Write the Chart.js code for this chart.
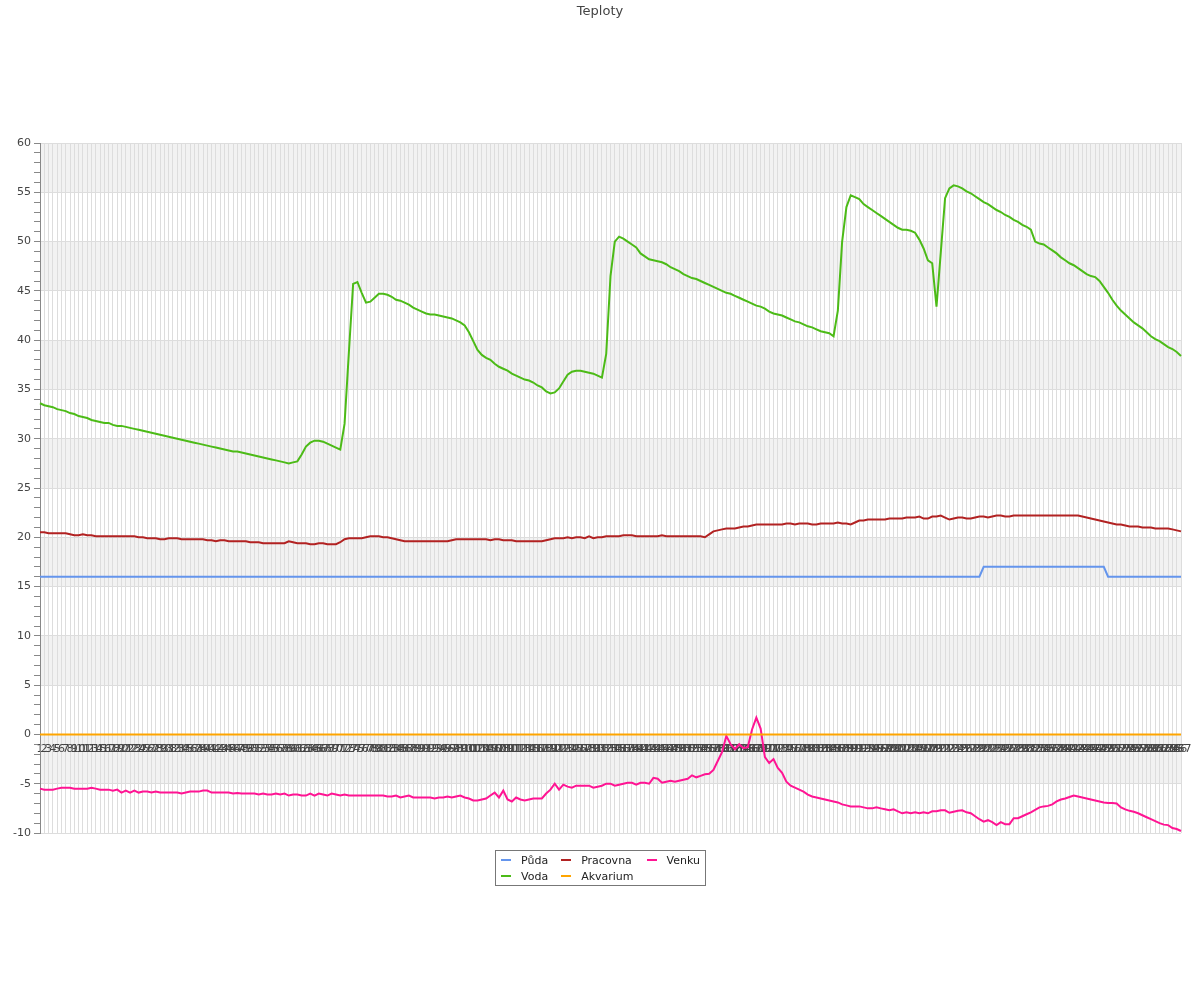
<!DOCTYPE html>
<html>
<head>
<meta charset="utf-8">
<script src="https://cdn.jsdelivr.net/npm/chart.js@4"></script>
<style>
html,body{margin:0;padding:0;background:#fff;}
#wrap{position:relative;width:1200px;height:1000px;}
#legend{position:absolute;left:495px;top:850px;border:1px solid #777;font:11px "DejaVu Sans",sans-serif;color:#222;
  display:grid;grid-auto-flow:column;grid-template-rows:16px 16px;column-gap:13px;padding:1px 5px 1px 5px;}
.item{display:flex;align-items:center;white-space:nowrap;}
.sw{width:10px;height:2px;margin-right:10px;}
</style>
</head>
<body>
<div id="wrap">
<canvas id="c" width="1200" height="1000"></canvas>
<div id="legend"></div>
</div>
<script>
const categories = [
1,2,3,4,5,6,7,8,9,10,11,12,13,14,15,16,17,18,19,20,21,22,23,24,25,26,27,28,29,30,
31,32,33,34,35,36,37,38,39,40,41,42,43,44,45,46,47,48,49,50,51,52,53,54,55,56,57,58,59,60,
61,62,63,64,65,66,67,68,69,70,71,72,73,74,75,76,77,78,79,80,81,82,83,84,85,86,87,88,89,90,
91,92,93,94,95,96,97,98,99,100,101,102,103,104,105,106,107,108,109,110,111,112,113,114,115,116,117,118,119,120,
121,122,123,124,125,126,127,128,129,130,131,132,133,134,135,136,137,138,139,140,141,142,143,144,145,146,147,148,149,150,
151,152,153,154,155,156,157,158,159,160,161,162,163,164,165,166,167,168,169,170,171,172,173,174,175,176,177,178,179,180,
181,182,183,184,185,186,187,188,189,190,191,192,193,194,195,196,197,198,199,200,201,202,203,204,205,206,207,208,209,210,
211,212,213,214,215,216,217,218,219,220,221,222,223,224,225,226,227,228,229,230,231,232,233,234,235,236,237,238,239,240,
241,242,243,244,245,246,247,248,249,250,251,252,253,254,255,256,257,258,259,260,261,262,263,264,265,266,267
];

const puda = [
16,16,16,16,16,16,16,16,16,16, 16,16,16,16,16,16,16,16,16,16, 16,16,16,16,16,16,16,16,16,16,
16,16,16,16,16,16,16,16,16,16, 16,16,16,16,16,16,16,16,16,16, 16,16,16,16,16,16,16,16,16,16,
16,16,16,16,16,16,16,16,16,16, 16,16,16,16,16,16,16,16,16,16, 16,16,16,16,16,16,16,16,16,16,
16,16,16,16,16,16,16,16,16,16, 16,16,16,16,16,16,16,16,16,16, 16,16,16,16,16,16,16,16,16,16,
16,16,16,16,16,16,16,16,16,16, 16,16,16,16,16,16,16,16,16,16, 16,16,16,16,16,16,16,16,16,16,
16,16,16,16,16,16,16,16,16,16, 16,16,16,16,16,16,16,16,16,16, 16,16,16,16,16,16,16,16,16,16,
16,16,16,16,16,16,16,16,16,16, 16,16,16,16,16,16,16,16,16,16, 16,16,16,16,16,16,16,16,16,16,
16,16,16,16,16,16,16,16,16,16, 17,17,17,17,17,17,17,17,17,17, 17,17,17,17,17,17,17,17,17,17,
17,17,17,17,17,17,17,17,17,16, 16,16,16,16,16,16,16,16,16,16, 16,16,16,16,16,16,16
];

const voda = [
33.6,33.4,33.3,33.2,33.0,32.9,32.8,32.6,32.5,32.3,
32.2,32.1,31.9,31.8,31.7,31.6,31.6,31.4,31.3,31.3,
31.2,31.1,31.0,30.9,30.8,30.7,30.6,30.5,30.4,30.3,
30.2,30.1,30.0,29.9,29.8,29.7,29.6,29.5,29.4,29.3,
29.2,29.1,29.0,28.9,28.8,28.7,28.7,28.6,28.5,28.4,
28.3,28.2,28.1,28.0,27.9,27.8,27.7,27.6,27.5,27.6,
27.7,28.4,29.2,29.6,29.8,29.8,29.7,29.5,29.3,29.1,
28.9,31.5,38.7,45.7,45.9,44.8,43.8,43.9,44.3,44.7,
44.7,44.6,44.4,44.1,44.0,43.8,43.6,43.3,43.1,42.9,
42.7,42.6,42.6,42.5,42.4,42.3,42.2,42.0,41.8,41.5,
40.8,39.9,39.0,38.5,38.2,38.0,37.6,37.3,37.1,36.9,
36.6,36.4,36.2,36.0,35.9,35.7,35.4,35.2,34.8,34.6,
34.7,35.1,35.8,36.5,36.8,36.9,36.9,36.8,36.7,36.6,
36.4,36.2,38.6,46.5,50.0,50.5,50.3,50.0,49.7,49.4,
48.8,48.5,48.2,48.1,48.0,47.9,47.7,47.4,47.2,47.0,
46.7,46.5,46.3,46.2,46.0,45.8,45.6,45.4,45.2,45.0,
44.8,44.7,44.5,44.3,44.1,43.9,43.7,43.5,43.4,43.2,
42.9,42.7,42.6,42.5,42.3,42.1,41.9,41.8,41.6,41.4,
41.3,41.1,40.9,40.8,40.7,40.4,43.0,50.0,53.5,54.7,
54.5,54.3,53.8,53.5,53.2,52.9,52.6,52.3,52.0,51.7,
51.4,51.2,51.2,51.1,50.9,50.2,49.3,48.1,47.8,43.4,
48.9,54.4,55.4,55.7,55.6,55.4,55.1,54.9,54.6,54.3,
54.0,53.8,53.5,53.2,53.0,52.7,52.5,52.2,52.0,51.7,
51.5,51.2,50.0,49.8,49.7,49.4,49.1,48.8,48.4,48.1,
47.8,47.6,47.3,47.0,46.7,46.5,46.4,46.0,45.4,44.8,
44.1,43.5,43.0,42.6,42.2,41.8,41.5,41.2,40.8,40.4,
40.1,39.9,39.6,39.3,39.1,38.8,38.4
];

const pracovna = [
20.5,20.5,20.4,20.4,20.4,20.4,20.4,20.3,20.2,20.2,
20.3,20.2,20.2,20.1,20.1,20.1,20.1,20.1,20.1,20.1,
20.1,20.1,20.1,20.0,20.0,19.9,19.9,19.9,19.8,19.8,
19.9,19.9,19.9,19.8,19.8,19.8,19.8,19.8,19.8,19.7,
19.7,19.6,19.7,19.7,19.6,19.6,19.6,19.6,19.6,19.5,
19.5,19.5,19.4,19.4,19.4,19.4,19.4,19.4,19.6,19.5,
19.4,19.4,19.4,19.3,19.3,19.4,19.4,19.3,19.3,19.3,
19.5,19.8,19.9,19.9,19.9,19.9,20.0,20.1,20.1,20.1,
20.0,20.0,19.9,19.8,19.7,19.6,19.6,19.6,19.6,19.6,
19.6,19.6,19.6,19.6,19.6,19.6,19.7,19.8,19.8,19.8,
19.8,19.8,19.8,19.8,19.8,19.7,19.8,19.8,19.7,19.7,
19.7,19.6,19.6,19.6,19.6,19.6,19.6,19.6,19.7,19.8,
19.9,19.9,19.9,20.0,19.9,20.0,20.0,19.9,20.1,19.9,
20.0,20.0,20.1,20.1,20.1,20.1,20.2,20.2,20.2,20.1,
20.1,20.1,20.1,20.1,20.1,20.2,20.1,20.1,20.1,20.1,
20.1,20.1,20.1,20.1,20.1,20.0,20.3,20.6,20.7,20.8,
20.9,20.9,20.9,21.0,21.1,21.1,21.2,21.3,21.3,21.3,
21.3,21.3,21.3,21.3,21.4,21.4,21.3,21.4,21.4,21.4,
21.3,21.3,21.4,21.4,21.4,21.4,21.5,21.4,21.4,21.3,
21.5,21.7,21.7,21.8,21.8,21.8,21.8,21.8,21.9,21.9,
21.9,21.9,22.0,22.0,22.0,22.1,21.9,21.9,22.1,22.1,
22.2,22.0,21.8,21.9,22.0,22.0,21.9,21.9,22.0,22.1,
22.1,22.0,22.1,22.2,22.2,22.1,22.1,22.2,22.2,22.2,
22.2,22.2,22.2,22.2,22.2,22.2,22.2,22.2,22.2,22.2,
22.2,22.2,22.2,22.1,22.0,21.9,21.8,21.7,21.6,21.5,
21.4,21.3,21.3,21.2,21.1,21.1,21.1,21.0,21.0,21.0,
20.9,20.9,20.9,20.9,20.8,20.7,20.6
];

const akvarium = [
0,0,0,0,0,0,0,0,0,0, 0,0,0,0,0,0,0,0,0,0, 0,0,0,0,0,0,0,0,0,0,
0,0,0,0,0,0,0,0,0,0, 0,0,0,0,0,0,0,0,0,0, 0,0,0,0,0,0,0,0,0,0,
0,0,0,0,0,0,0,0,0,0, 0,0,0,0,0,0,0,0,0,0, 0,0,0,0,0,0,0,0,0,0,
0,0,0,0,0,0,0,0,0,0, 0,0,0,0,0,0,0,0,0,0, 0,0,0,0,0,0,0,0,0,0,
0,0,0,0,0,0,0,0,0,0, 0,0,0,0,0,0,0,0,0,0, 0,0,0,0,0,0,0,0,0,0,
0,0,0,0,0,0,0,0,0,0, 0,0,0,0,0,0,0,0,0,0, 0,0,0,0,0,0,0,0,0,0,
0,0,0,0,0,0,0,0,0,0, 0,0,0,0,0,0,0,0,0,0, 0,0,0,0,0,0,0,0,0,0,
0,0,0,0,0,0,0,0,0,0, 0,0,0,0,0,0,0,0,0,0, 0,0,0,0,0,0,0,0,0,0,
0,0,0,0,0,0,0,0,0,0, 0,0,0,0,0,0,0,0,0,0, 0,0,0,0,0,0,0
];

const venku = [
-5.5,-5.6,-5.6,-5.6,-5.5,-5.4,-5.4,-5.4,-5.5,-5.5,
-5.5,-5.5,-5.4,-5.5,-5.6,-5.6,-5.6,-5.7,-5.6,-5.9,
-5.7,-5.9,-5.7,-5.9,-5.8,-5.8,-5.9,-5.8,-5.9,-5.9,
-5.9,-5.9,-5.9,-6.0,-5.9,-5.8,-5.8,-5.8,-5.7,-5.7,
-5.9,-5.9,-5.9,-5.9,-5.9,-6.0,-5.95,-6.0,-6.0,-6.0,
-6.0,-6.1,-6.0,-6.1,-6.1,-6.0,-6.1,-6.0,-6.2,-6.1,
-6.1,-6.2,-6.2,-6.0,-6.2,-6.0,-6.1,-6.2,-6.0,-6.1,
-6.2,-6.1,-6.2,-6.2,-6.2,-6.2,-6.2,-6.2,-6.2,-6.2,
-6.2,-6.3,-6.3,-6.2,-6.4,-6.3,-6.2,-6.4,-6.4,-6.4,
-6.4,-6.4,-6.5,-6.4,-6.4,-6.3,-6.4,-6.3,-6.2,-6.4,
-6.5,-6.7,-6.7,-6.6,-6.5,-6.2,-5.9,-6.4,-5.7,-6.6,
-6.8,-6.4,-6.6,-6.7,-6.6,-6.5,-6.5,-6.5,-6.0,-5.6,
-5.0,-5.6,-5.1,-5.3,-5.4,-5.2,-5.2,-5.2,-5.2,-5.4,
-5.3,-5.2,-5.0,-5.0,-5.2,-5.1,-5.0,-4.9,-4.9,-5.1,
-4.9,-4.9,-5.0,-4.4,-4.5,-4.9,-4.8,-4.7,-4.8,-4.7,
-4.6,-4.5,-4.15,-4.35,-4.2,-4.05,-4.0,-3.6,-2.7,-1.8,
-0.15,-1.0,-1.5,-1.0,-1.4,-1.3,0.5,1.7,0.6,-2.3,
-2.9,-2.5,-3.4,-3.9,-4.8,-5.2,-5.4,-5.6,-5.8,-6.1,
-6.3,-6.4,-6.5,-6.6,-6.7,-6.8,-6.9,-7.1,-7.2,-7.3,
-7.3,-7.3,-7.4,-7.5,-7.5,-7.4,-7.5,-7.6,-7.7,-7.6,
-7.8,-8.0,-7.9,-8.0,-7.9,-8.0,-7.9,-8.0,-7.8,-7.8,
-7.7,-7.7,-7.95,-7.85,-7.75,-7.7,-7.9,-8.0,-8.3,-8.6,
-8.85,-8.7,-8.9,-9.2,-8.9,-9.1,-9.1,-8.5,-8.5,-8.3,
-8.1,-7.9,-7.65,-7.4,-7.3,-7.25,-7.1,-6.8,-6.6,-6.5,
-6.35,-6.2,-6.3,-6.4,-6.5,-6.6,-6.7,-6.8,-6.9,-6.95,
-6.95,-7.0,-7.4,-7.6,-7.75,-7.85,-8.0,-8.2,-8.4,-8.6,
-8.8,-9.0,-9.15,-9.2,-9.5,-9.6,-9.8
];

const seriesNames = ['Půda','Voda','Pracovna','Akvarium','Venku'];
const seriesColors = ['#6495ED','#4CBB17','#B22222','#FFA500','#FF1493'];
const seriesData = [puda, voda, pracovna, akvarium, venku];

const Y_MIN = -10, Y_MAX = 60, Y_BAND = 5;

Chart.defaults.font.family = '"DejaVu Sans", sans-serif';
Chart.defaults.font.size = 11;
Chart.defaults.color = '#444';

const bandsPlugin = {
  id: 'bands',
  beforeDraw(chart) {
    const {ctx, chartArea: a, scales: {y}} = chart;
    ctx.save();
    ctx.fillStyle = '#f2f2f2';
    for (let v = Y_MIN + Y_BAND; v < Y_MAX; v += 2 * Y_BAND) {
      const t = y.getPixelForValue(v + Y_BAND), b = y.getPixelForValue(v);
      ctx.fillRect(a.left, t, a.right - a.left, b - t);
    }
    ctx.restore();
  }
};

const chart = new Chart(document.getElementById('c'), {
  type: 'line',
  data: {
    labels: categories.map(String),
    datasets: seriesNames.map((n, k) => ({
      label: n,
      data: seriesData[k],
      borderColor: seriesColors[k],
      backgroundColor: seriesColors[k],
      borderWidth: 2,
      pointRadius: 0,
      tension: 0,
      fill: false
    }))
  },
  options: {
    responsive: false,
    animation: false,
    layout: { padding: { left: 0, right: 0, top: 0, bottom: 167 } },
    plugins: {
      legend: { display: false },
      tooltip: { enabled: false },
      title: {
        display: true, text: 'Teploty', color: '#444',
        font: { size: 13, weight: 'normal' },
        padding: { top: 4, bottom: 123.4 }
      }
    },
    scales: {
      x: {
        type: 'category',
        position: { y: 0 },
        offset: false,
        grid: { color: '#dddddd', lineWidth: 1, drawTicks: false },
        border: { display: false },
        ticks: { autoSkip: false, maxRotation: 0, minRotation: 0, padding: 8, color: '#444', font: { size: 11 } }
      },
      y: {
        min: Y_MIN, max: Y_MAX,
        afterFit(s) { s.width = 40; },
        border: { display: true, color: '#888', width: 1 },
        grid: {
          color: c => (c.tick && c.tick.value % 5 === 0) ? '#dddddd' : 'rgba(0,0,0,0)',
          tickColor: '#888',
          tickLength: 6,
          drawTicks: true
        },
        ticks: {
          stepSize: 1, autoSkip: false, padding: 3, color: '#444',
          callback: v => (v % 5 === 0 ? String(v) : '')
        }
      },
      yRight: {
        position: 'right',
        min: Y_MIN, max: Y_MAX,
        afterFit(s) { s.width = 19; },
        border: { display: false },
        grid: { display: false },
        ticks: { display: false }
      }
    }
  },
  plugins: [bandsPlugin]
});

const leg = document.getElementById('legend');
chart.data.datasets.forEach(ds => {
  const it = document.createElement('div'); it.className = 'item';
  const sw = document.createElement('span'); sw.className = 'sw'; sw.style.background = ds.borderColor;
  const tx = document.createElement('span'); tx.textContent = ds.label;
  it.appendChild(sw); it.appendChild(tx); leg.appendChild(it);
});
</script>
</body>
</html>
